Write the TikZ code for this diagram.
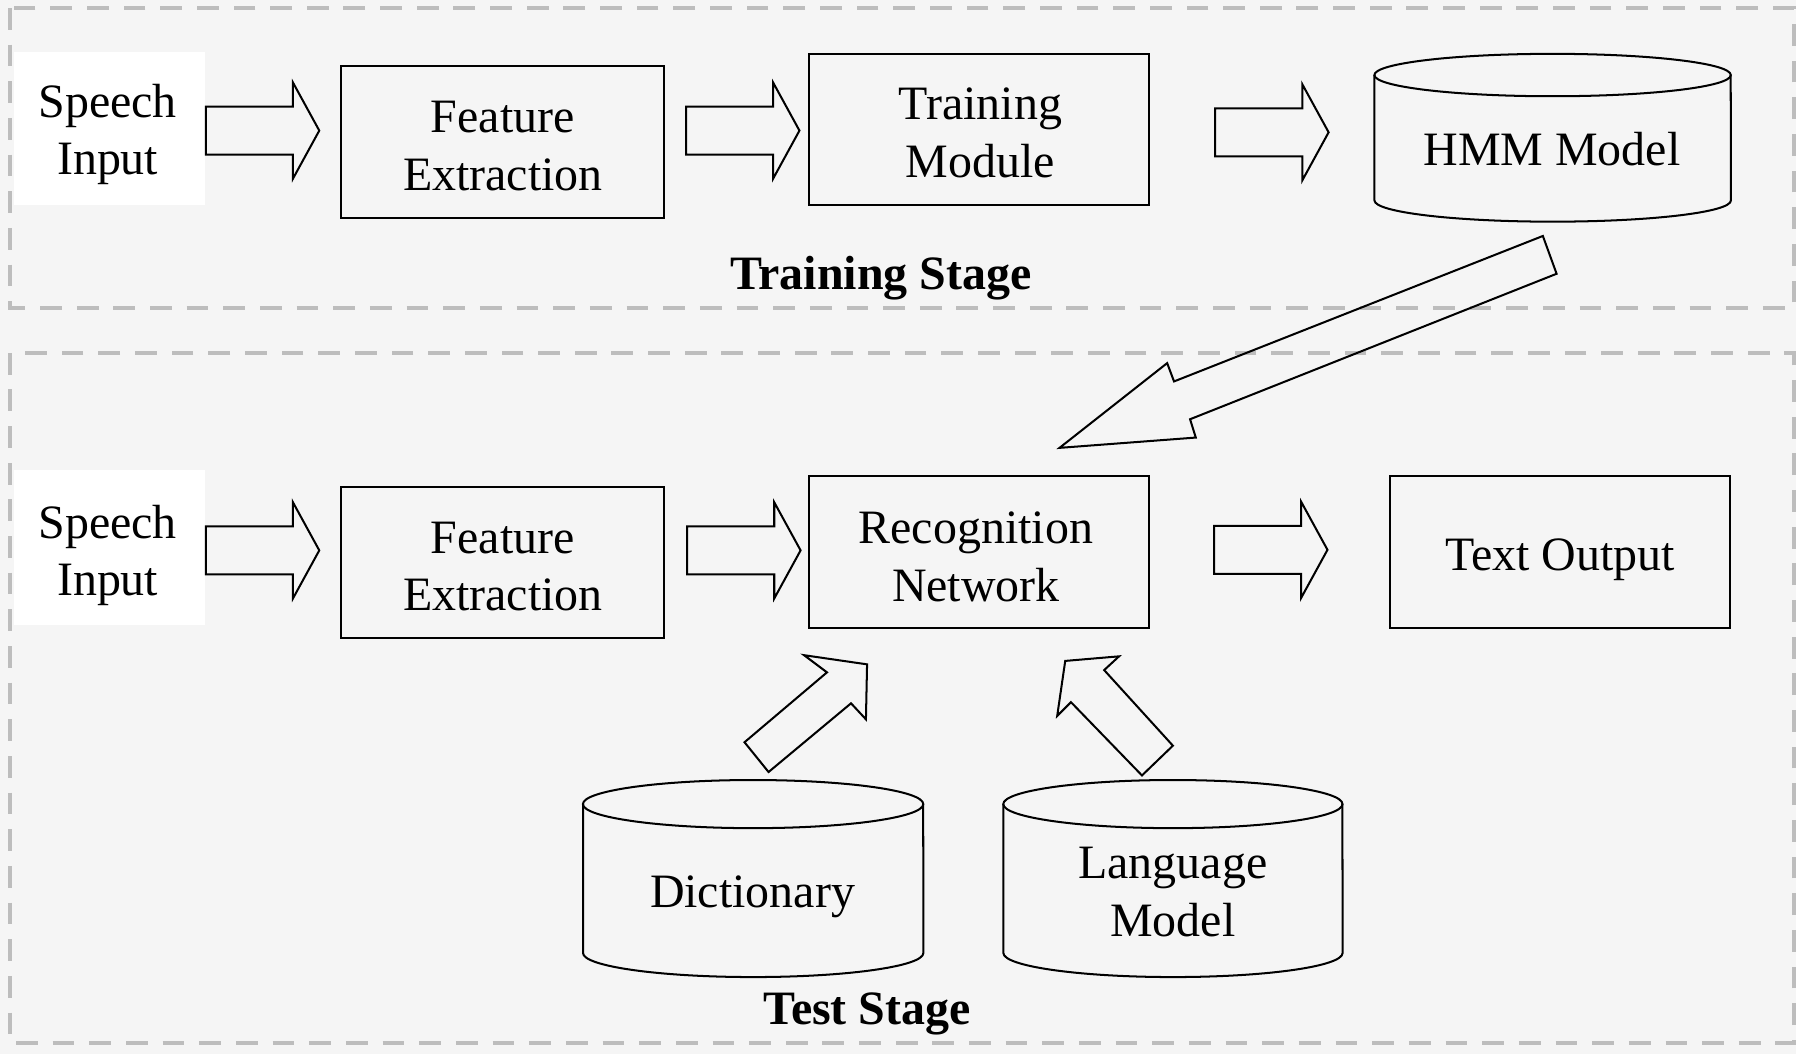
\documentclass[tikz,border=0pt]{standalone}
\usepackage{fontspec}
\setmainfont{Liberation Serif}
\usetikzlibrary{calc}
\newcommand\hblk[1]{\draw[blk, shift={#1}] (0,-21) -- (76,-21) -- (76,-42) -- (99,0) -- (76,42) -- (76,21) -- (0,21) -- cycle;}
\begin{document}
\begin{tikzpicture}[x=0.01cm,y=-0.01cm,
  lbl/.style={font=\fontsize{11.9}{14.3}\selectfont, align=center, inner sep=0pt},
  box/.style={draw=black, line width=0.5pt, inner sep=0pt},
  blk/.style={draw=black, line width=0.5pt, line join=miter},
  stage/.style={draw=black!26, line width=1pt, dash pattern=on 5.4pt off 3.7pt},
  ttl/.style={font=\fontsize{11.9}{14.3}\selectfont\bfseries, inner sep=0pt},
]
\fill[black!4] (0,0) rectangle (1568,920);
\useasboundingbox (0,0) rectangle (1568,920);
\draw[stage] (9,7) rectangle (1566,269);
\draw[stage] (9,308) rectangle (1566,911);

% training row
\node[fill=white, minimum width=1.67cm, minimum height=1.34cm, inner sep=0pt] (speechA) at (95.5,112) {};
\node[lbl] (speechAt) at (94,117.5) {Speech\\Input};
\node[box, minimum width=2.82cm, minimum height=1.32cm] (featA) at (439,124) {};
\node[lbl] (featAt) at (439,127.5) {Feature\\Extraction};
\node[box, minimum width=2.97cm, minimum height=1.32cm] (train) at (854.5,113) {};
\node[lbl] (traint) at (856,116) {Training\\Module};
\node[lbl] (hmm) at (1355,130) {HMM Model};
\draw[blk] (1200,65.5) -- (1200,175) arc[start angle=180, end angle=360, x radius=1.555cm, y radius=0.185cm] -- (1511,65.5);
\draw[blk] (1355.5,65.5) ellipse [x radius=1.555cm, y radius=0.185cm];
\node[ttl] (lblTrain) at (769,243) {Training Stage};

\hblk{($(speechA.east)+(0,2)$)}
\hblk{($(featA.east)+(18,-10)$)}
\hblk{($(train.east)+(57,2.5)$)}

% test row
\node[fill=white, minimum width=1.67cm, minimum height=1.36cm, inner sep=0pt] (speechB) at (95.5,478) {};
\node[lbl] (speechBt) at (94,485) {Speech\\Input};
\node[box, minimum width=2.82cm, minimum height=1.32cm] (featB) at (439,491) {};
\node[lbl] (featBt) at (439,494.5) {Feature\\Extraction};
\node[box, minimum width=2.97cm, minimum height=1.32cm] (recog) at (854.5,482) {};
\node[lbl] (recogt) at (852,486) {Recognition\\Network};
\node[box, minimum width=2.96cm, minimum height=1.32cm] (textout) at (1362,482) {};
\node[lbl] (textoutt) at (1362,489) {Text Output};

\hblk{($(speechB.east)+(0,2.5)$)}
\hblk{($(featB.east)+(19,-10.5)$)}
\hblk{($(recog.east)+(56,-2)$)}

% HMM -> recognition
\draw[blk] (1347,206) -- (1025,333) -- (1019,317) -- (925,391) -- (1044,382) -- (1039,366) -- (1359,239) -- cycle;

% cylinders
\node[lbl] (dict) at (657,783) {Dictionary};
\draw[blk] (509,702) -- (509,832) arc[start angle=180, end angle=360, x radius=1.485cm, y radius=0.21cm] -- (806,702);
\draw[blk] (657.5,702) ellipse [x radius=1.485cm, y radius=0.21cm];
\node[lbl] (lang) at (1024,779) {Language\\Model};
\draw[blk] (876,702) -- (876,832) arc[start angle=180, end angle=360, x radius=1.48cm, y radius=0.21cm] -- (1172,702);
\draw[blk] (1024,702) ellipse [x radius=1.48cm, y radius=0.21cm];

% dictionary -> recognition
\draw[blk] (650,648) -- (722,587) -- (702,572) -- (757,580) -- (756,628) -- (743,614) -- (671,674) -- cycle;
% language -> recognition
\draw[blk] (1024,651) -- (964,585) -- (977,573) -- (930,577) -- (923,625) -- (935,613) -- (997,677) -- cycle;

\node[ttl] (lblTest) at (757,885) {Test Stage};
\end{tikzpicture}
\end{document}
